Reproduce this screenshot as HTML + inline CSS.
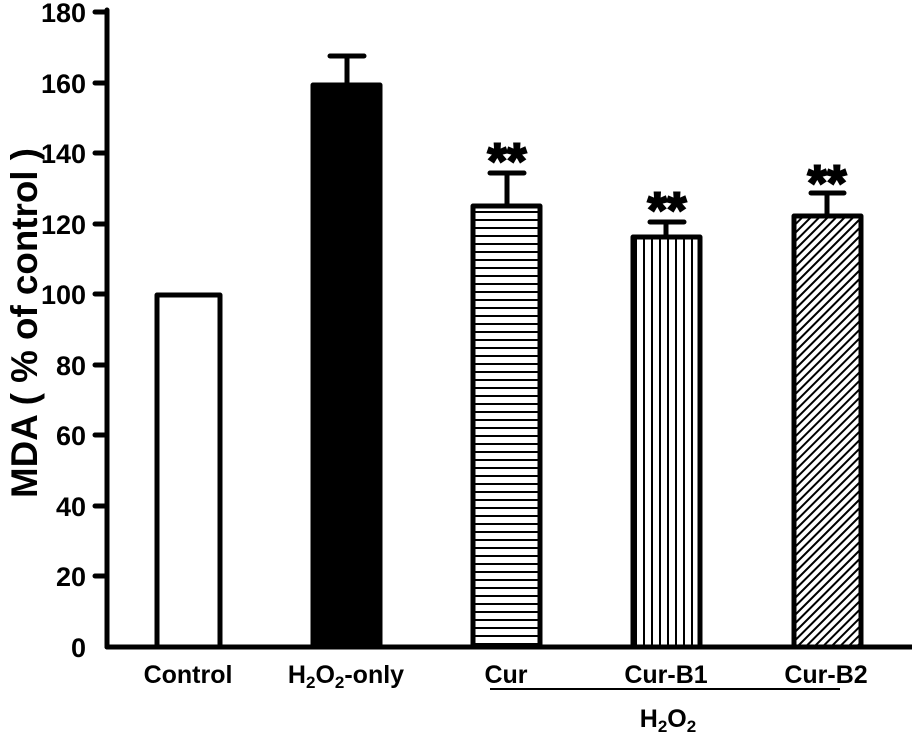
<!DOCTYPE html>
<html><head><meta charset="utf-8"><style>body{margin:0;background:#fff}svg{display:block}text{font-family:"Liberation Sans",Arial,sans-serif;font-weight:bold;fill:#000}</style></head>
<body>
<svg width="912" height="740" viewBox="0 0 912 740" xmlns="http://www.w3.org/2000/svg">
<defs>
<pattern id="hz" width="10" height="8" patternUnits="userSpaceOnUse"><rect width="10" height="8" fill="#fff"/><rect y="3" width="10" height="2" fill="#000"/></pattern>
<pattern id="vt" width="8" height="10" patternUnits="userSpaceOnUse"><rect width="8" height="10" fill="#fff"/><rect x="3" width="2" height="10" fill="#000"/></pattern>
<pattern id="dg" width="6" height="6" patternUnits="userSpaceOnUse" patternTransform="rotate(45)"><rect width="6" height="6" fill="#fff"/><rect x="0" width="2" height="6" fill="#000"/></pattern>
</defs>
<g stroke="#000" stroke-width="5" fill="none" stroke-linecap="round">
<line x1="107" y1="10" x2="107" y2="647"/>
<line x1="107" y1="647" x2="912" y2="647"/>
<line x1="95" y1="12" x2="107" y2="12"/>
<line x1="95" y1="83" x2="107" y2="83"/>
<line x1="95" y1="153" x2="107" y2="153"/>
<line x1="95" y1="224" x2="107" y2="224"/>
<line x1="95" y1="294" x2="107" y2="294"/>
<line x1="95" y1="365" x2="107" y2="365"/>
<line x1="95" y1="435" x2="107" y2="435"/>
<line x1="95" y1="506" x2="107" y2="506"/>
<line x1="95" y1="576" x2="107" y2="576"/>
<line x1="347" y1="85" x2="347" y2="56"/><line x1="330" y1="56" x2="364" y2="56"/>
<line x1="507" y1="204" x2="507" y2="173"/><line x1="490" y1="173" x2="524" y2="173"/>
<line x1="666" y1="236" x2="666" y2="222"/><line x1="650" y1="222" x2="684" y2="222"/>
<line x1="827" y1="215" x2="827" y2="193"/><line x1="811" y1="193" x2="844" y2="193"/>
</g>
<g stroke="#000" stroke-width="5" stroke-linejoin="round">
<rect x="157" y="295" width="63" height="352" fill="#fff"/>
<rect x="313" y="85" width="67" height="562" fill="#000"/>
<rect x="473" y="206" width="67" height="441" fill="url(#hz)"/>
<rect x="633" y="237" width="67" height="410" fill="url(#vt)"/>
<rect x="794" y="216" width="67" height="431" fill="url(#dg)"/>
</g>
<line x1="490" y1="689" x2="840" y2="689" stroke="#000" stroke-width="2"/>
<g font-size="27" text-anchor="end">
<text x="86" y="22">180</text><text x="86" y="93">160</text><text x="86" y="163">140</text>
<text x="86" y="234">120</text><text x="86" y="304">100</text><text x="86" y="375">80</text>
<text x="86" y="445">60</text><text x="86" y="516">40</text><text x="86" y="586">20</text>
<text x="86" y="657">0</text>
</g>
<g font-size="50" text-anchor="middle" stroke="#000" stroke-width="2">
<text x="507" y="178">**</text><text x="667" y="227">**</text><text x="827" y="200">**</text>
</g>
<g font-size="25" text-anchor="middle">
<text x="188" y="683">Control</text>
<text x="346" y="683">H<tspan font-size="17" dy="5">2</tspan><tspan dy="-5">O</tspan><tspan font-size="17" dy="5">2</tspan><tspan dy="-5">-only</tspan></text>
<text x="506" y="683">Cur</text>
<text x="666" y="683">Cur-B1</text>
<text x="826" y="683">Cur-B2</text>
<text x="668" y="727">H<tspan font-size="17" dy="5">2</tspan><tspan dy="-5">O</tspan><tspan font-size="17" dy="5">2</tspan></text>
</g>
<text x="-498" y="37" transform="rotate(-90)" font-size="37" textLength="350" lengthAdjust="spacingAndGlyphs">MDA ( % of control )</text>
</svg>
</body></html>
